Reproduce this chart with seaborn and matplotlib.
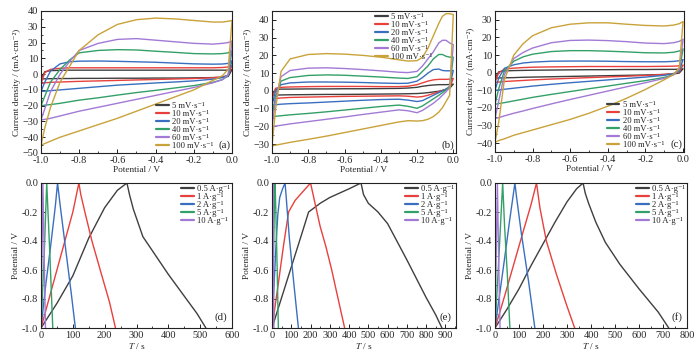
import matplotlib
matplotlib.use("Agg")
import matplotlib.pyplot as plt
from matplotlib.ticker import AutoMinorLocator, MultipleLocator
import seaborn as sns

# --- data ---
rates = ["5 mV·s⁻¹", "10 mV·s⁻¹", "20 mV·s⁻¹", "40 mV·s⁻¹", "60 mV·s⁻¹", "100 mV·s⁻¹"]
currents = ["0.5 A·g⁻¹", "1 A·g⁻¹", "2 A·g⁻¹", "5 A·g⁻¹", "10 A·g⁻¹"]
cv_colors = ["#3f3f3f", "#e8403c", "#3a6fc0", "#33a068", "#a27ad6", "#c9a23a"]

# potential grids (V)
E_ac = [-1.0, -0.98, -0.95, -0.9, -0.85, -0.8, -0.7, -0.6, -0.5, -0.4, -0.3, -0.2, -0.1, -0.05, -0.02, 0.0]
E_b = [-1.0, -0.98, -0.95, -0.9, -0.8, -0.7, -0.6, -0.5, -0.4, -0.3, -0.25, -0.2, -0.17, -0.14,
       -0.11, -0.08, -0.06, -0.04, -0.02, 0.0]

# (a) anodic / cathodic branches, mA cm-2
a_upper = [
    [-3, 1.5, 2.2, 2.4, 2.5, 2.5, 2.5, 2.5, 2.5, 2.5, 2.5, 2.5, 2.5, 2.5, 2.5, 2.8],
    [-6, 1, 3, 3.7, 4, 4, 4, 4, 4, 4, 4, 4, 4, 4.2, 4.5, 5.5],
    [-11, -5, 2, 6.5, 7.8, 8.2, 8.3, 8.1, 7.8, 7.5, 7, 6.5, 6.3, 6.4, 6.8, 8.5],
    [-20, -14, -5, 3, 9, 13.5, 15, 15.5, 15.3, 14.5, 13.8, 13, 12.8, 13, 13.5, 15],
    [-29, -22, -11, 0, 8, 15, 19.5, 22, 22.5, 21.5, 20.5, 19.5, 19, 19.5, 20, 21],
    [-45, -34, -21, -5, 5, 15, 25, 31.5, 34.5, 35.5, 35, 34, 33, 33, 33.5, 34],
]
a_lower = [
    [-3, -3, -2.9, -2.8, -2.8, -2.7, -2.7, -2.6, -2.6, -2.5, -2.5, -2.4, -2.2, -2, -1.5, 2.8],
    [-6, -5.5, -5.2, -5, -4.8, -4.6, -4.3, -4, -3.7, -3.4, -3.1, -2.8, -2.3, -1.8, -0.8, 5.5],
    [-11, -10.8, -10.5, -10, -9.5, -9, -8, -7, -6.3, -5.6, -5, -4.3, -3.2, -2.2, -0.5, 8.5],
    [-20, -19.7, -19.3, -18.5, -17.5, -16.5, -15, -13.3, -11.7, -10.3, -8.8, -7.3, -5.2, -3.5, -1, 15],
    [-29, -28.7, -28, -26.5, -25, -23.5, -21, -18.5, -16, -13.5, -11, -8.5, -5.5, -3.5, -0.5, 21],
    [-45, -44, -42.5, -40, -38, -36, -32, -28, -23.5, -19, -14.5, -10, -4, -1, 3, 34],
]

# (b)
b_upper = [
    [-2, 0.8, 1, 1, 1.1, 1.1, 1.2, 1.2, 1.3, 1.4, 1.6, 2, 2.6, 3, 3.3, 3.5, 3.5, 3.5, 3.6, 3.8],
    [-4.5, 1.5, 2, 2.2, 2.4, 2.5, 2.5, 2.5, 2.4, 2.4, 2.6, 3.5, 4.5, 5.5, 6.2, 6.5, 6.5, 6.5, 6.6, 7],
    [-8, 0, 3.5, 4.5, 5, 5, 4.9, 4.7, 4.4, 4.2, 4.3, 5.5, 7.5, 10, 12, 12.3, 11.5, 11.3, 11.3, 11.5],
    [-14.5, -3, 5.5, 7.5, 8.7, 9, 8.8, 8.3, 7.8, 7.2, 7, 8, 11, 14, 18, 20.5, 20.5, 19.5, 19, 19],
    [-20, -5, 8, 11.5, 12.8, 13, 12.6, 12, 11.3, 10.5, 10.3, 11, 14, 18, 22, 27, 28.5, 28.5, 27, 26],
    [-31, -10, 11, 18, 20.5, 21, 20.7, 20, 19, 17.5, 16.8, 17, 19, 24, 31, 38, 42, 43.5, 43.5, 43],
]
b_lower = [
    [-2.5, -2.4, -2.3, -2.2, -2.1, -2, -2, -1.9, -1.8, -1.7, -1.6, -1.5, -1.3, -1, -0.6, -0.2, 0.3, 0.8, 1.5, 3.8],
    [-4.5, -4.3, -4, -3.7, -3.5, -3.3, -3.1, -3, -2.9, -2.8, -3, -3.5, -3.2, -2.5, -1.5, -0.5, 0.2, 1, 2, 7],
    [-8, -7.8, -7.5, -7.2, -6.8, -6.3, -5.8, -5.3, -4.9, -4.7, -5.2, -6, -5.5, -4, -2.5, -1, 0, 1, 2.5, 11.5],
    [-14.5, -14.3, -14, -13.5, -12.7, -11.8, -10.8, -9.8, -8.8, -8, -8.7, -9.8, -8.5, -6.5, -4.5, -2.5, -1, 0.5, 2.5, 19],
    [-20, -19.8, -19.4, -18.6, -17.3, -16, -14.7, -13.3, -12, -10.7, -11.2, -12.3, -11, -9, -7, -4.5, -2.5, -0.5, 2, 26],
    [-31, -30.6, -30, -29, -27.3, -25.5, -23.5, -21.5, -19.5, -17.5, -16.8, -17, -16.8, -16, -14.5, -12, -9.5, -6, -2.5, 43],
]

# (c)
c_upper = [
    [-3, 0.5, 1, 1.2, 1.3, 1.4, 1.5, 1.6, 1.7, 1.7, 1.8, 1.8, 1.9, 1.9, 2, 2.2],
    [-5.5, 0, 2, 2.6, 2.9, 3.1, 3.3, 3.4, 3.5, 3.5, 3.5, 3.5, 3.6, 3.7, 3.9, 4.3],
    [-10, -3, 2.5, 4.5, 5.5, 6, 6.5, 6.6, 6.6, 6.5, 6.3, 6.2, 6.2, 6.4, 6.8, 7.5],
    [-18, -9, 1, 6.5, 9, 10.5, 12, 12.5, 12.5, 12.2, 11.8, 11.3, 11.2, 11.6, 12.3, 13.5],
    [-26, -16, -1, 8, 11.5, 14, 17, 18.3, 18.5, 18.2, 17.6, 16.8, 16.5, 17, 17.8, 19],
    [-39.5, -28, -4, 10, 16.5, 21, 25.5, 27.5, 28.3, 28.3, 27.5, 26.8, 26.5, 27, 27.8, 29],
]
c_lower = [
    [-3, -3, -2.9, -2.8, -2.6, -2.5, -2.3, -2.1, -1.9, -1.7, -1.5, -1.3, -1, -0.7, -0.2, 2.2],
    [-5.5, -5.3, -5, -4.7, -4.4, -4.1, -3.6, -3.2, -2.8, -2.4, -2, -1.6, -1, -0.5, 0.5, 4.3],
    [-10, -9.8, -9.4, -8.8, -8.2, -7.6, -6.6, -5.7, -4.9, -4.1, -3.3, -2.5, -1.5, -0.5, 1, 7.5],
    [-18, -17.5, -17, -16, -15, -14, -12.3, -10.7, -9.1, -7.6, -6, -4.5, -2.7, -1, 1.5, 13.5],
    [-26, -25.5, -24.5, -23, -21.7, -20.3, -17.7, -15.2, -12.8, -10.4, -8, -5.7, -3.2, -1.2, 2, 19],
    [-39.5, -38.5, -37.5, -35.5, -34, -32.5, -29.5, -26.5, -23, -19, -14.5, -9.5, -4, -1, 3, 29],
]

# GCD: time (s) and potential (V) for each current density
d_time = [
    [0, 50, 100, 150, 200, 240, 270, 278, 290, 320, 360, 400, 450, 490, 518],
    [0, 20, 50, 80, 100, 119, 125, 140, 160, 190, 215, 234],
    [0, 15, 30, 45, 52, 60, 80, 95, 108],
    [0, 10, 18, 28, 37],
    [0, 3, 6, 10, 14],
]
d_volt = [
    [-1, -0.83, -0.64, -0.38, -0.17, -0.05, 0, -0.08, -0.18, -0.37, -0.5, -0.63, -0.78, -0.9, -1],
    [-1, -0.84, -0.6, -0.36, -0.2, 0, -0.08, -0.22, -0.4, -0.63, -0.82, -1],
    [-1, -0.7, -0.44, -0.16, 0, -0.15, -0.5, -0.76, -1],
    [-1, -0.5, 0, -0.5, -1],
    [-1, -0.5, 0, -0.5, -1],
]
e_time = [
    [0, 50, 100, 150, 190, 250, 300, 350, 400, 462, 475, 500, 550, 600, 640, 700, 750, 800, 850, 882],
    [0, 30, 60, 86, 120, 160, 200, 210, 225, 250, 280, 310, 340, 377],
    [0, 10, 20, 30, 40, 55, 68, 75, 90, 110, 137],
    [0, 8, 13, 16, 20, 27, 33],
    [0, 3, 5, 7, 10],
]
e_volt = [
    [-1, -0.79, -0.58, -0.37, -0.2, -0.14, -0.1, -0.07, -0.04, 0, -0.08, -0.14, -0.2, -0.28, -0.38,
     -0.53, -0.66, -0.79, -0.91, -1],
    [-1, -0.72, -0.43, -0.2, -0.12, -0.06, 0, -0.06, -0.15, -0.3, -0.44, -0.6, -0.78, -1],
    [-1, -0.72, -0.45, -0.22, -0.1, -0.04, 0, -0.12, -0.38, -0.65, -1],
    [-1, -0.5, -0.1, 0, -0.2, -0.6, -1],
    [-1, -0.4, 0, -0.4, -1],
]
f_time = [
    [0, 50, 100, 150, 200, 250, 300, 340, 367, 376, 390, 420, 460, 520, 600, 680, 724],
    [0, 40, 80, 120, 150, 173, 187, 214, 256, 298, 332],
    [0, 20, 40, 60, 83, 90, 110, 140, 166],
    [0, 15, 32, 40, 52, 62],
    [0, 5, 10, 15, 21],
]
f_volt = [
    [-1, -0.87, -0.73, -0.57, -0.42, -0.27, -0.13, -0.04, 0, -0.07, -0.14, -0.27, -0.41, -0.56, -0.73, -0.89, -1],
    [-1, -0.78, -0.55, -0.32, -0.15, 0, -0.17, -0.4, -0.63, -0.84, -1],
    [-1, -0.76, -0.52, -0.27, 0, -0.1, -0.35, -0.68, -1],
    [-1, -0.55, 0, -0.3, -0.65, -1],
    [-1, -0.5, 0, -0.5, -1],
]

# --- style ---
sns.set_style("ticks")
plt.rcParams["font.family"] = ["Liberation Serif", "DejaVu Serif"]
plt.rcParams["mathtext.fontset"] = "stix"
plt.rcParams["axes.linewidth"] = 0.8
plt.rcParams["axes.edgecolor"] = "#222222"

fig = plt.figure(figsize=(7.0, 3.61), dpi=100)
W, H = 700, 361


def box(x0, x1, y0, y1):
    return [x0 / W, 1 - y1 / H, (x1 - x0) / W, (y1 - y0) / H]


def style_axis(ax):
    ax.tick_params(which="both", direction="in", labelsize=7.4, color="#222222", pad=2)
    ax.tick_params(which="major", length=3, width=0.7)
    ax.tick_params(which="minor", length=1.6, width=0.6)
    ax.xaxis.set_minor_locator(AutoMinorLocator(2))
    ax.yaxis.set_minor_locator(AutoMinorLocator(2))


def add_legend(ax, loc, anchor):
    leg = ax.legend(loc=loc, bbox_to_anchor=anchor, frameon=False, fontsize=6.2,
                    handlelength=1.5, handletextpad=0.4, labelspacing=0.0, borderpad=0,
                    borderaxespad=0, handleheight=0.5)
    for h in leg.get_lines():
        h.set_linewidth(1.6)


def cv_panel(ax, E, upper, lower, ylim, tag, leg_anchor, leg_loc, xmax):
    for k in range(len(rates)):
        xs = E + E[::-1]
        ys = upper[k] + lower[k][::-1]
        sns.lineplot(x=xs, y=ys, ax=ax, sort=False, estimator=None, color=cv_colors[k],
                     lw=1.0, label=rates[k])
    ax.set_xlim(-1.0, xmax)
    ax.set_ylim(*ylim)
    ax.xaxis.set_major_locator(MultipleLocator(0.2))
    ax.yaxis.set_major_locator(MultipleLocator(10))
    ax.xaxis.set_major_formatter(plt.FormatStrFormatter("%.1f"))
    ax.set_xlabel("Potential / V", fontsize=6.7, labelpad=1)
    ax.set_ylabel("Current density / (mA·cm⁻²)", fontsize=6.7, labelpad=1)
    style_axis(ax)
    add_legend(ax, leg_loc, leg_anchor)
    ax.text(0.99, 0.02, tag, transform=ax.transAxes, ha="right", va="bottom", fontsize=7.8)


def gcd_panel(ax, times, volts, xmax, tag):
    for k in range(len(currents)):
        sns.lineplot(x=times[k], y=volts[k], ax=ax, sort=False, estimator=None,
                     color=cv_colors[k], lw=1.0, label=currents[k])
    ax.set_xlim(0, xmax)
    ax.set_ylim(-1.0, 0.0)
    ax.xaxis.set_major_locator(MultipleLocator(100))
    ax.yaxis.set_major_locator(MultipleLocator(0.2))
    ax.yaxis.set_major_formatter(plt.FormatStrFormatter("%.1f"))
    ax.set_xlabel("$T$ / s", fontsize=6.7, labelpad=1)
    ax.set_ylabel("Potential / V", fontsize=6.7, labelpad=1)
    style_axis(ax)
    add_legend(ax, "upper right", (0.99, 0.985))
    ax.text(0.975, 0.04, tag, transform=ax.transAxes, ha="right", va="bottom", fontsize=7.8)


ax_a = fig.add_axes(box(41, 232, 11, 153))
ax_b = fig.add_axes(box(272, 456, 11, 153))
ax_c = fig.add_axes(box(495, 684, 11, 152))
ax_d = fig.add_axes(box(41, 232, 183, 328))
ax_e = fig.add_axes(box(272, 456, 183, 328))
ax_f = fig.add_axes(box(495, 687, 183, 328))

cv_panel(ax_a, E_ac, a_upper, a_lower, (-50, 40), "(a)", (0.6, 0.02), "lower left", 0.0)
cv_panel(ax_b, E_b, b_upper, b_lower, (-35, 45), "(b)", (0.56, 0.985), "upper left", 0.015)
cv_panel(ax_c, E_ac, c_upper, c_lower, (-45, 35), "(c)", (0.59, 0.02), "lower left", 0.005)

gcd_panel(ax_d, d_time, d_volt, 600, "(d)")
gcd_panel(ax_e, e_time, e_volt, 955, "(e)")
gcd_panel(ax_f, f_time, f_volt, 800, "(f)")

fig.savefig("out.png", dpi=100)
